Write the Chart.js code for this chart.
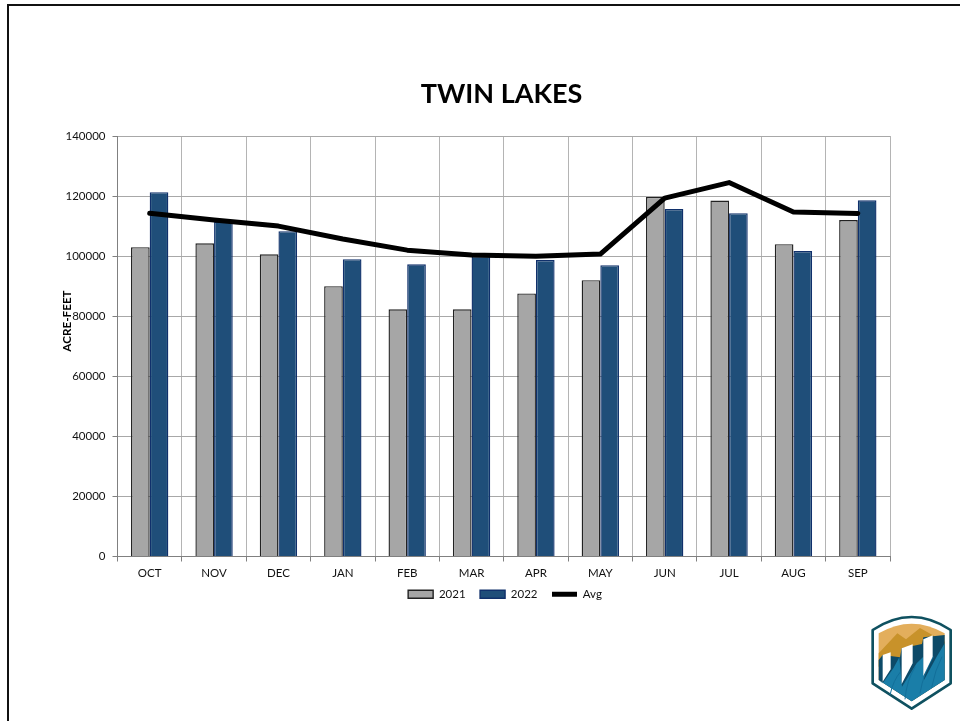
<!DOCTYPE html>
<html>
<head>
<meta charset="utf-8">
<style>
  html, body { margin: 0; padding: 0; background: #fff; overflow: hidden; }
  #frame { position: absolute; left: 7px; top: 4px; width: 960px; height: 730px; border-left: 2px solid #111; border-top: 2px solid #111; }
  #chart { position: absolute; left: 0; top: 0; }
  #logo { position: absolute; left: 840px; top: 600px; }
</style>
<script src="https://cdn.jsdelivr.net/npm/chart.js@4"></script>
</head>
<body>
<div id="frame"></div>
<canvas id="chart" width="960" height="721"></canvas>
<svg id="logo" width="120" height="121" viewBox="0 0 360 363">
  <path d="M98 90 Q215 12 332 90 L332 250 L215 326 L98 250 Z" fill="#fff" stroke="#0f5160" stroke-width="8" stroke-linejoin="round"/>
  <path d="M116 100 Q215 42 314 100 L314 240 L215 304 L116 240 Z" fill="#e3ae5c"/>
  <path d="M116 160 L172 100 L198 118 L240 84 L314 125 L314 190 L116 200 Z" fill="#c8922a"/>
  <path d="M116 240 L116 180 L128 165 L180 172 L185 145 L246 132 L250 112 L314 105 L314 240 L215 304 Z" fill="#0d4a68"/>
  <path d="M116 240 L128 250 L160 205 L178 172 L186 260 L230 190 L250 170 L252 240 L290 170 L314 130 L314 240 L215 304 Z" fill="#1a7ea8"/>
  <path d="M150 285 Q160 240 182 215 M195 298 Q200 240 226 200 M240 280 Q250 220 280 170 M275 262 Q285 210 306 170" fill="none" stroke="#126f9a" stroke-width="3"/>
  <path d="M128 165 L152 157 L152 208 L128 245 Z M185 145 L218 133 L218 190 L185 252 Z M250 118 L278 106 L278 170 L250 228 Z" fill="#fff"/>
</svg>
<script>
const categories = ['OCT', 'NOV', 'DEC', 'JAN', 'FEB', 'MAR', 'APR', 'MAY', 'JUN', 'JUL', 'AUG', 'SEP'];
const values2021 = [103000, 104300, 100600, 90000, 82300, 82300, 87600, 92000, 119700, 118500, 104000, 112000];
const values2022 = [121300, 111500, 108300, 99000, 97300, 100000, 98700, 97000, 115700, 114300, 101700, 118600];
const valuesAvg = [114300, 112000, 110000, 105700, 102000, 100400, 100000, 100700, 119300, 124500, 114700, 114200];

const fontName = 'Lato, "Open Sans", sans-serif';

// nudges the title and legend off their default spots, and puts in the off-centre y title
const placement = {
  id: 'placement',
  afterLayout(chart) {
    chart.titleBlock.left += 26.5;
    chart.titleBlock.right += 26.5;
    chart.legend.left += 30;
    chart.legend.right += 30;
    chart.legend.top -= 10.5;
    chart.legend.bottom -= 10.5;
  },
  afterDraw(chart) {
    const ctx = chart.ctx;
    ctx.save();
    ctx.translate(67, 321);
    ctx.rotate(-Math.PI / 2);
    ctx.font = 'bold 11.7px ' + fontName;
    ctx.fillStyle = '#000';
    ctx.textAlign = 'center';
    ctx.textBaseline = 'middle';
    ctx.fillText('ACRE-FEET', 0, 0);
    ctx.restore();
  }
};

new Chart(document.getElementById('chart'), {
  data: {
    labels: categories,
    datasets: [
      { type: 'line', label: 'Avg', data: valuesAvg, order: 0, borderColor: '#000', backgroundColor: '#000', borderWidth: 5, pointRadius: 0, tension: 0, borderCapStyle: 'round', borderJoinStyle: 'round' },
      { type: 'bar', label: '2021', data: values2021, order: 1, backgroundColor: '#a6a6a6', borderColor: '#222', borderWidth: 1.4, categoryPercentage: 0.58, barPercentage: 1 },
      { type: 'bar', label: '2022', data: values2022, order: 1, backgroundColor: '#1f4e79', borderColor: '#10306b', borderWidth: 1.4, categoryPercentage: 0.58, barPercentage: 1 }
    ]
  },
  plugins: [placement],
  options: {
    responsive: false,
    animation: false,
    layout: { padding: { left: 60, right: 70, top: 0, bottom: 100.5 } },
    scales: {
      x: {
        offset: true,
        afterFit(scale) { scale.height = 28; },
        grid: { color: '#b4b4b4', lineWidth: 1, tickColor: '#808080', tickLength: 5, offset: true },
        border: { color: '#808080' },
        ticks: { color: '#111', font: { family: fontName, size: 11.5 }, padding: 5, maxRotation: 0 }
      },
      y: {
        min: 0,
        max: 140000,
        afterFit(scale) { scale.width = 57.5; },
        grid: { color: '#a8a8a8', lineWidth: 1, tickColor: '#808080', tickLength: 5 },
        border: { color: '#808080' },
        ticks: { stepSize: 20000, color: '#111', font: { family: fontName, size: 11.5 }, padding: 7, callback: v => String(v) }
      }
    },
    plugins: {
      tooltip: { enabled: false },
      title: {
        display: true,
        text: 'TWIN LAKES',
        color: '#000',
        font: { family: fontName, size: 27, weight: 'bold', lineHeight: 1.2 },
        padding: { top: 78, bottom: 25.6 }
      },
      legend: {
        position: 'bottom',
        labels: {
          color: '#111',
          font: { family: fontName, size: 11.5 },
          usePointStyle: true,
          pointStyleWidth: 25,
          boxHeight: 8,
          padding: 14.5,
          sort: (a, b) => a.datasetIndex === 0 ? 1 : (b.datasetIndex === 0 ? -1 : a.datasetIndex - b.datasetIndex),
          generateLabels(chart) {
            return chart.data.datasets.map((ds, i) => ({
              text: ds.label,
              datasetIndex: i,
              fillStyle: ds.backgroundColor,
              strokeStyle: ds.borderColor,
              lineWidth: ds.type === 'line' ? 5 : 1.4,
              pointStyle: ds.type === 'line' ? 'line' : 'rect',
              fontColor: '#111'
            }));
          }
        }
      }
    }
  }
});
</script>
</body>
</html>
